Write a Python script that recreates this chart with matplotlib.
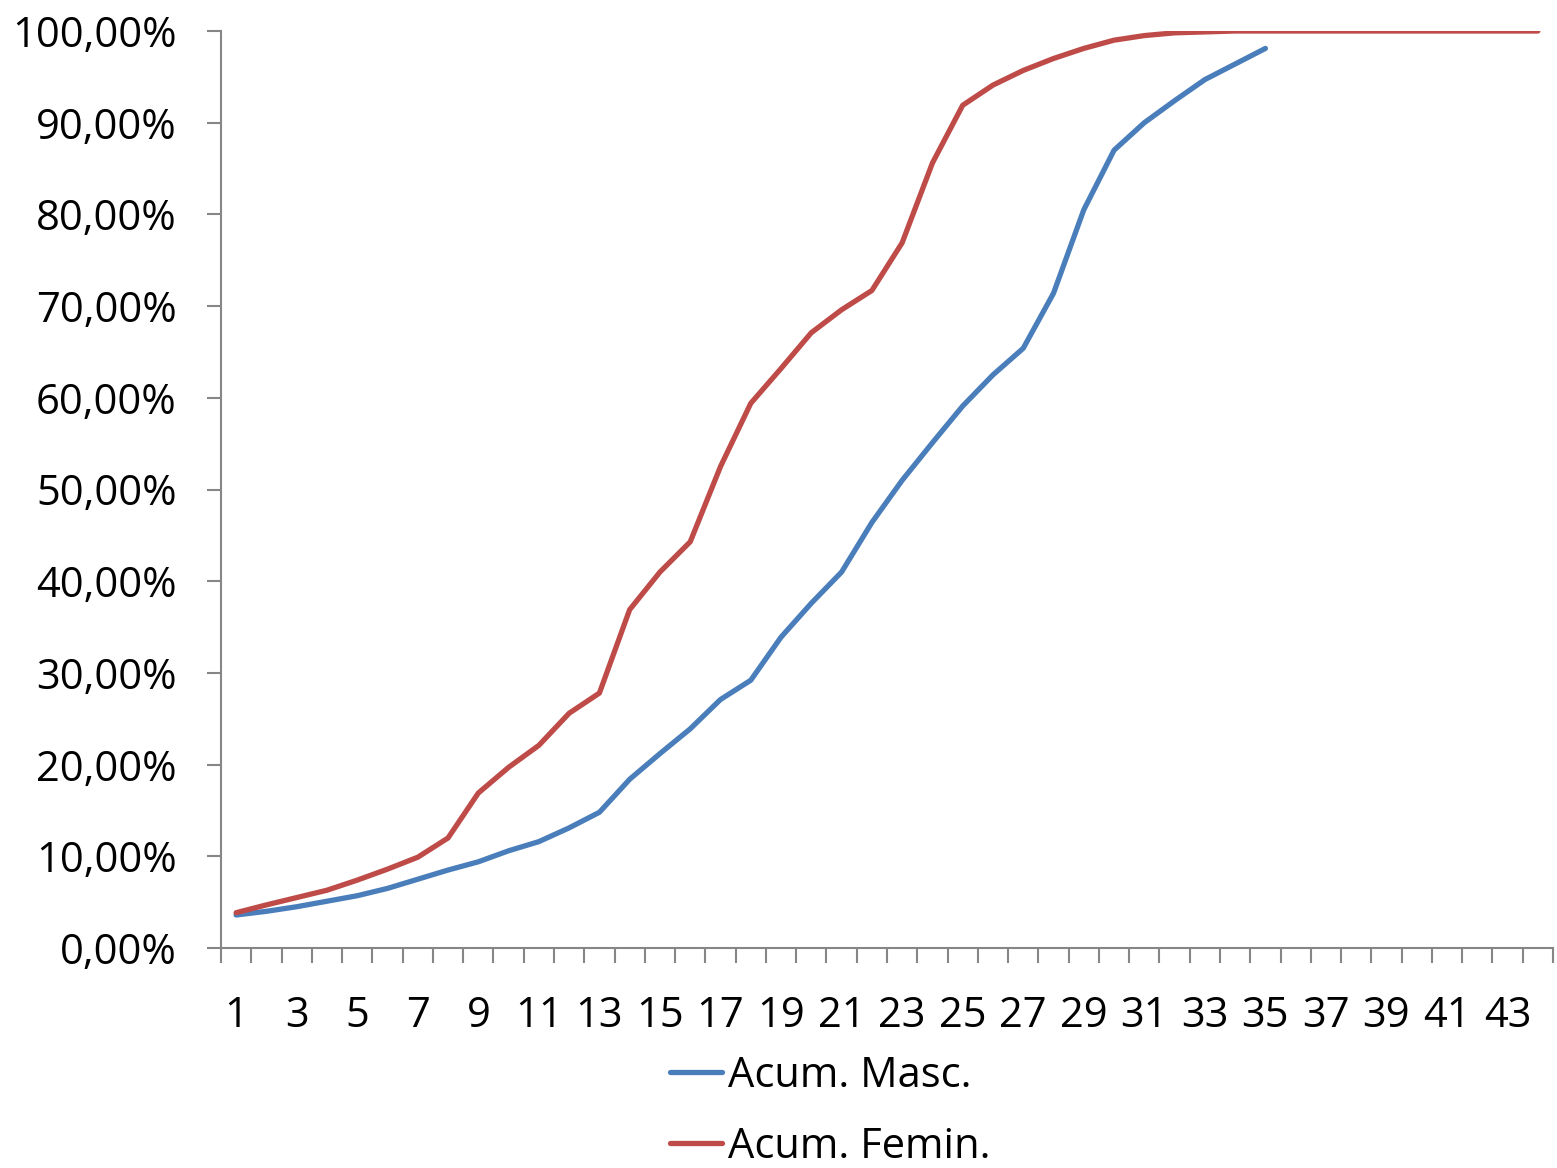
import matplotlib
matplotlib.use("Agg")
import matplotlib.pyplot as plt
import numpy as np
from matplotlib.ticker import FixedLocator, FuncFormatter

categories = list(range(1, 45))
masc = [3.6, 4.0, 4.5, 5.1, 5.7, 6.5, 7.5, 8.5, 9.4, 10.6, 11.6, 13.1, 14.8, 18.4, 21.2,
        23.9, 27.1, 29.2, 33.9, 37.6, 41.0, 46.4, 51.0, 55.1, 59.1, 62.5, 65.4, 71.4,
        80.5, 87.0, 90.0, 92.4, 94.7, 96.4, 98.1]
femin = [3.85, 4.7, 5.5, 6.3, 7.4, 8.6, 9.9, 12.0, 16.9, 19.7, 22.1, 25.6, 27.8, 36.9,
         41.0, 44.3, 52.5, 59.4, 63.2, 67.1, 69.6, 71.7, 76.9, 85.6, 91.9, 94.1, 95.7,
         97.0, 98.1, 99.0, 99.5, 99.8, 99.9, 100.0, 100.0, 100.0, 100.0, 100.0, 100.0,
         100.0, 100.0, 100.0, 100.0, 100.0]
y_ticks = [0, 10, 20, 30, 40, 50, 60, 70, 80, 90, 100]
series_names = ["Acum. Masc.", "Acum. Femin."]

plt.rcParams['font.family'] = ['Open Sans', 'DejaVu Sans']

fig = plt.figure(figsize=(15.57, 11.68), dpi=100)
W, H = 1557, 1168
ax = fig.add_axes([221 / W, 1 - 948 / H, (1553 - 221) / W, (948 - 31) / H])

blue = '#4A7EBB'
red = '#BE4B48'
x_m = np.arange(1, len(masc) + 1)
x_f = np.arange(1, len(femin) + 1)
ax.plot(x_m, masc, color=blue, lw=3.8, solid_capstyle='round', solid_joinstyle='round', label=series_names[0])
ax.plot(x_f, femin, color=red, lw=3.8, solid_capstyle='round', solid_joinstyle='round', label=series_names[1])

n = len(categories)
ax.set_xlim(0.5, n + 0.5)
ax.set_ylim(0, 100)

gray = '#868686'
for s in ['top', 'right']:
    ax.spines[s].set_visible(False)
for s in ['left', 'bottom']:
    ax.spines[s].set_color(gray)
    ax.spines[s].set_linewidth(1.5)

ax.set_yticks(y_ticks)
ax.yaxis.set_major_formatter(FuncFormatter(lambda v, p: f"{v:.2f}".replace('.', ',') + '%'))
ax.tick_params(axis='y', length=10, width=1.5, color=gray, labelsize=30, pad=22, direction='out')

# category boundary ticks (major), labels at centers (minor)
ax.xaxis.set_major_locator(FixedLocator(np.arange(0.5, n + 1.0, 1.0)))
ax.xaxis.set_major_formatter(FuncFormatter(lambda v, p: ''))
ax.xaxis.set_minor_locator(FixedLocator(categories[::2]))
ax.xaxis.set_minor_formatter(FuncFormatter(lambda v, p: str(int(round(v)))))
ax.tick_params(axis='x', which='major', length=11, width=1.5, color=gray, direction='out')
ax.tick_params(axis='x', which='minor', length=0, labelsize=30, pad=34)

leg = fig.legend(loc='upper left', bbox_to_anchor=(653 / W, 1 - 1038 / H), frameon=False,
                 fontsize=30, handlelength=1.25, handletextpad=0.15, labelspacing=0.7,
                 borderaxespad=0)

fig.savefig('out.png', dpi=100)
